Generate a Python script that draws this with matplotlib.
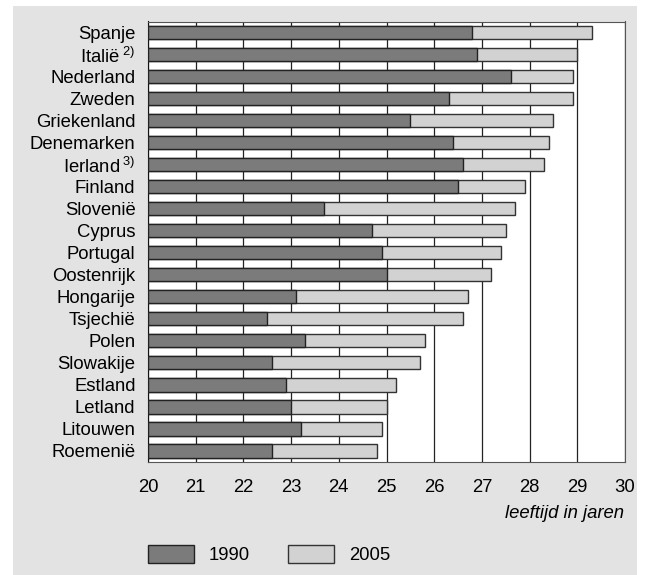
import matplotlib
matplotlib.use("Agg")
import matplotlib.pyplot as plt
from matplotlib.patches import Rectangle, Patch

plt.rcParams["font.family"] = ["Liberation Sans", "DejaVu Sans"]
plt.rcParams["mathtext.fontset"] = "custom"
plt.rcParams["mathtext.rm"] = "Liberation Sans"

# landen, van boven naar beneden
landen = ["Spanje", "Italië$\\,^{\\mathrm{2)}}$", "Nederland", "Zweden", "Griekenland",
          "Denemarken", "Ierland$\\,^{\\mathrm{3)}}$", "Finland", "Slovenië", "Cyprus",
          "Portugal", "Oostenrijk", "Hongarije", "Tsjechië", "Polen",
          "Slowakije", "Estland", "Letland", "Litouwen", "Roemenië"]

# leeftijd 1990 en 2005
leeftijd_1990 = [26.8, 26.9, 27.6, 26.3, 25.5, 26.4, 26.6, 26.5, 23.7, 24.7,
                 24.9, 25.0, 23.1, 22.5, 23.3, 22.6, 22.9, 23.0, 23.2, 22.6]
leeftijd_2005 = [29.3, 29.0, 28.9, 28.9, 28.5, 28.4, 28.3, 27.9, 27.7, 27.5,
                 27.4, 27.2, 26.7, 26.6, 25.8, 25.7, 25.2, 25.0, 24.9, 24.8]

x_ticks = list(range(20, 31))

donker = "#7b7b7b"
licht = "#d2d2d3"
achtergrond = "#e3e3e3"
fs = 13.3

fig = plt.figure(figsize=(6.46, 5.75), dpi=100, facecolor="white")
# grijs kader achter de grafiek
fig.patches.append(Rectangle((13 / 646, 0), (637 - 13) / 646, 1 - 6 / 575,
                             transform=fig.transFigure, facecolor=achtergrond,
                             edgecolor="none", zorder=-5))

ax = fig.add_axes([148 / 646, 1 - 462 / 575, (625 - 148) / 646, (462 - 21.5) / 575])
ax.set_facecolor("white")

pos = list(range(len(landen)))
ax.barh(pos, [v - 20 for v in leeftijd_2005], left=20, height=0.6, color=licht,
        edgecolor="#333333", linewidth=1.0, zorder=3)
ax.barh(pos, [v - 20 for v in leeftijd_1990], left=20, height=0.6, color=donker,
        edgecolor="#222222", linewidth=1.0, zorder=4)

ax.set_xlim(20, 30)
ax.set_ylim(19.5, -0.5)
ax.set_xticks(x_ticks)
ax.set_xticklabels([str(t) for t in x_ticks], fontsize=fs)
ax.set_yticks(pos)
ax.set_yticklabels(landen, fontsize=fs)
ax.tick_params(axis="both", length=0)
ax.tick_params(axis="y", pad=9)
ax.tick_params(axis="x", pad=12)
ax.grid(axis="x", color="#222222", linewidth=0.9, zorder=1)
ax.set_axisbelow(True)
for s in ["top", "right", "bottom"]:
    ax.spines[s].set_color("#555555")
ax.spines["left"].set_color("#111111")

fig.text(624 / 646, 1 - 514 / 575, "leeftijd in jaren", ha="right", va="center",
         fontsize=fs, style="italic")

handles = [Patch(facecolor=donker, edgecolor="#222222", label="1990"),
           Patch(facecolor=licht, edgecolor="#333333", label="2005")]
fig.legend(handles=handles, loc="center left", bbox_to_anchor=(148 / 646, 1 - 554.5 / 575),
           ncol=2, frameon=False, fontsize=fs, handlelength=2.49, handleheight=1.14,
           handletextpad=0.81, columnspacing=2.05, borderpad=0, borderaxespad=0)

fig.savefig("out.png", dpi=100, facecolor="white")
